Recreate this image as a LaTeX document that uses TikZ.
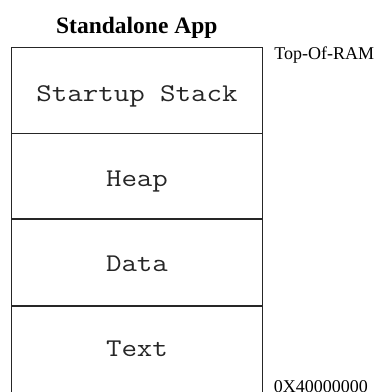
\documentclass[tikz,border=0pt]{standalone}
\usepackage{fontspec}
\setmainfont{Liberation Serif}
\setmonofont[FakeStretch=1.18]{Latin Modern Mono}
\begin{document}
\begin{tikzpicture}[x=1pt,y=-1pt,
  segbox/.style={draw=black!85,line width=1.1pt,minimum width=251pt,inner sep=0pt,outer sep=0pt},
  segtext/.style={anchor=base,inner sep=0pt,font=\ttfamily\fontsize{25.5}{30}\selectfont,text=black!85},
  addrlabel/.style={anchor=base west,inner sep=0pt,font=\fontsize{18}{20}\selectfont}]
\useasboundingbox (0,0) rectangle (377,392);
\node[anchor=base,inner sep=0pt,font=\bfseries\fontsize{23.5}{27}\selectfont] (title) at (136.8,33.3) {Standalone App};
\node[segbox,minimum height=86.2pt] (stack) at (137,90.6) {};
\node[segbox,minimum height=85.3pt] (heap) at (137,176.35) {};
\node[segbox,minimum height=87pt] (data) at (137,262.5) {};
\node[segbox,minimum height=88pt] (text) at (137,350) {};
\node[segtext] (tstack) at (137,101.7) {Startup Stack};
\node[segtext] (theap) at (137,186) {Heap};
\node[segtext] (tdata) at (137,271.7) {Data};
\node[segtext] (ttext) at (137,356) {Text};
\node[addrlabel] (top) at (274.2,59.3) {Top-Of-RAM};
\node[addrlabel] (base) at (273.6,392.5) {0X40000000};
\end{tikzpicture}
\end{document}
